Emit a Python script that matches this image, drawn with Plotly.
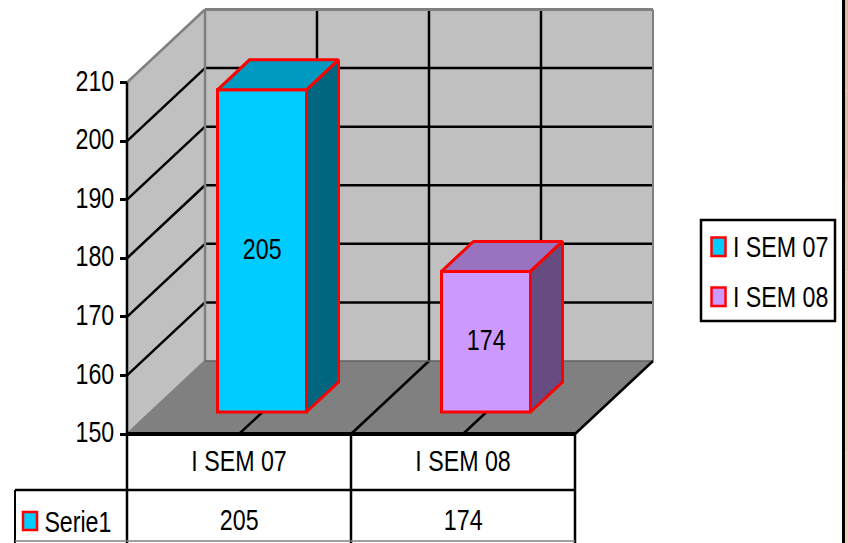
import plotly.graph_objects as go

# Chart data
categories = ["I SEM 07", "I SEM 08"]
values = [205, 174]
series_name = "Serie1"
y_ticks = [150, 160, 170, 180, 190, 200, 210]
front_colors = ["#00CCFF", "#CC99FF"]
top_colors = ["#0099BF", "#9973BF"]
side_colors = ["#006680", "#664C80"]

# Page size and axis scale
WIDTH, HEIGHT = 848, 543
PX_X, PX_Y = 224.0, 351.5 / 60
LEFT, BASELINE = 127, 434  # page position of category 0 and value 150
FONT = dict(family="Liberation Sans", size=29, color="#000000")

x_range = [-LEFT / PX_X, (WIDTH - LEFT) / PX_X]
y_range = [150 - (HEIGHT - BASELINE) / PX_Y, 150 + BASELINE / PX_Y]

# Oblique projection used for the 3D box
DX, DY = 78 / PX_X, 73 / PX_Y          # full floor depth
GAP_X, GAP_Y = 23 / PX_X, 22 / PX_Y    # floor margin in front of the bars
BAR_DX, BAR_DY = 32 / PX_X, 30 / PX_Y  # depth of a bar
BAR_W = 89 / PX_X
Y0, Y1 = y_ticks[0], y_ticks[-1]
N = len(categories)

shapes = []


def polygon(pts, fill, line=None, width=0):
    path = "M" + "L".join(f"{x:.4f},{y:.4f}" for x, y in pts) + "Z"
    shapes.append(dict(type="path", path=path, xref="x", yref="y", fillcolor=fill, layer="below",
                       line=dict(color=line or fill, width=width)))


def segment(x0, y0, x1, y1, color="#000000", width=2.5):
    shapes.append(dict(type="line", x0=x0, y0=y0, x1=x1, y1=y1, xref="x", yref="y", layer="below",
                       line=dict(color=color, width=width)))


def page_rect(x0, y0, x1, y1, fill=None, line=None, width=0):
    shapes.append(dict(type="rect", xref="paper", yref="paper", layer="below",
                       x0=x0 / WIDTH, x1=x1 / WIDTH, y0=1 - y0 / HEIGHT, y1=1 - y1 / HEIGHT,
                       fillcolor=fill or "rgba(0,0,0,0)", line=dict(color=line or "rgba(0,0,0,0)", width=width)))


# Left wall, back wall and floor
polygon([(0, Y0), (0, Y1), (DX, Y1 + DY), (DX, Y0 + DY)], "#C0C0C0")
polygon([(DX, Y0 + DY), (DX, Y1 + DY), (N + DX, Y1 + DY), (N + DX, Y0 + DY)], "#C0C0C0")
polygon([(0, Y0), (DX, Y0 + DY), (N + DX, Y0 + DY), (N, Y0)], "#808080")

# Grid lines on the walls and the floor
for tick in y_ticks[1:-1]:
    segment(0, tick, DX, tick + DY)
    segment(DX, tick + DY, N + DX, tick + DY)
for pos in [0.5, 1.0, 1.5]:
    segment(pos, Y0, pos + DX, Y0 + DY)
    segment(pos + DX, Y0 + DY, pos + DX, Y1 + DY)

# Box edges
GREY = "#808080"
segment(0, Y1, DX, Y1 + DY, GREY, 2.5)
segment(DX, Y1 + DY, N + DX, Y1 + DY, GREY, 3)
segment(DX, Y0 + DY, DX, Y1 + DY, GREY, 2.5)
segment(N + DX, Y0 + DY, N + DX, Y1 + DY, GREY, 2)
segment(0, Y0, DX, Y0 + DY, GREY, 2)
segment(DX, Y0 + DY, N + DX, Y0 + DY, "#606060", 1.5)
segment(N, Y0, N + DX, Y0 + DY, "#000000", 2.5)
segment(0, Y0, 0, Y1, "#000000", 2.5)

# Data table under the plot
y_row = y_range[0] + (HEIGHT - 490) / PX_Y
x_table = (15 - LEFT) / PX_X
y_bottom = y_range[0] + 2 / PX_Y
segment(x_table, y_row, N, y_row, "#000000", 2.5)
segment(x_table, y_row, x_table, y_range[0], "#000000", 2)
for pos in range(N + 1):
    segment(pos, Y0, pos, y_range[0], "#000000", 2.5)
segment(x_table, y_bottom, N, y_bottom, "#808080", 1.5)
segment(0, Y0, N, Y0, "#000000", 4)

# Page edge on the right
strip_colors = ["#DCB8A6", "#DDBBA8", "#E2BFAC", "#E8C5AF", "#ECCAB2", "#F0CDB4"]
for i, color in enumerate(strip_colors):
    page_rect(845, HEIGHT * i / 6, WIDTH, HEIGHT * (i + 1) / 6, fill=color)
page_rect(842, 0, 845, HEIGHT, fill="#000000")

# Legend box and swatches
page_rect(701, 220, 835, 321, fill="#FFFFFF", line="#000000", width=2.5)
legend_rows = [247, 297]
for color, row in zip(front_colors, legend_rows):
    page_rect(711.5, row - 9.5, 725.5, row + 9, fill=color, line="#FF0000", width=2.5)
page_rect(23, 512, 37, 530, fill=front_colors[0], line="#FF0000", width=2.5)

annotations = []
for name, row in zip(categories, legend_rows):
    annotations.append(dict(text=name, xref="paper", yref="paper", x=719 / WIDTH, y=1 - row / HEIGHT,
                            xanchor="left", yanchor="middle", showarrow=False, font=FONT))
annotations.append(dict(text=series_name, xref="paper", yref="paper", x=34 / WIDTH, y=1 - 522 / HEIGHT,
                        xanchor="left", yanchor="middle", showarrow=False, font=FONT))
for i, value in enumerate(values):
    annotations.append(dict(text=str(value), xref="x", yref="paper", x=i + 0.5, y=1 - 519.5 / HEIGHT,
                            xanchor="center", yanchor="middle", showarrow=False, font=FONT))

fig = go.Figure()

# Front faces
bar_base = Y0 + GAP_Y
bar_x = [i + 0.5 + GAP_X for i in range(N)]
fig.add_trace(go.Bar(
    x=bar_x, y=[v - Y0 for v in values], base=bar_base, width=BAR_W,
    marker=dict(color=front_colors, line=dict(color="#FF0000", width=3)),
    hoverinfo="skip", showlegend=False, cliponaxis=False,
))

# Value labels sit just above the middle of each front face
for x_c, value in zip(bar_x, values):
    annotations.append(dict(text=str(value), xref="x", yref="y", x=x_c, y=bar_base + (value - Y0) / 2 + 2 / PX_Y,
                            xanchor="center", yanchor="middle", showarrow=False, font=FONT))

# Top and side faces
for x_c, value, top, side in zip(bar_x, values, top_colors, side_colors):
    xl, xr = x_c - BAR_W / 2, x_c + BAR_W / 2
    y_top = bar_base + value - Y0
    faces = [
        ([xl, xr, xr + BAR_DX, xl + BAR_DX, xl], [y_top, y_top, y_top + BAR_DY, y_top + BAR_DY, y_top], top),
        ([xr, xr + BAR_DX, xr + BAR_DX, xr, xr], [y_top, y_top + BAR_DY, bar_base + BAR_DY, bar_base, y_top], side),
    ]
    for xs, ys, fill in faces:
        fig.add_trace(go.Scatter(x=xs, y=ys, mode="lines", fill="toself", fillcolor=fill,
                                 line=dict(color="#FF0000", width=3), hoverinfo="skip", showlegend=False))

fig.update_layout(
    width=WIDTH, height=HEIGHT, margin=dict(l=0, r=0, t=0, b=0),
    paper_bgcolor="#FFFFFF", plot_bgcolor="rgba(0,0,0,0)",
    barmode="overlay", showlegend=False, font=FONT,
    shapes=shapes, annotations=annotations,
    xaxis=dict(range=x_range, domain=[0, 1], anchor="free", position=(HEIGHT - BASELINE) / HEIGHT,
               tickvals=[i + 0.5 for i in range(N)], ticktext=categories, ticks="", ticklabelstandoff=7,
               showgrid=False, zeroline=False, showline=False, tickfont=FONT, fixedrange=True),
    yaxis=dict(range=y_range, domain=[0, 1], anchor="free", position=LEFT / WIDTH,
               tickvals=y_ticks, ticks="outside", ticklen=7, tickwidth=2.5, tickcolor="#000000",
               ticklabelshift=-2, ticklabelstandoff=0,
               showgrid=False, zeroline=False, showline=False, tickfont=FONT, fixedrange=True),
)

# Labels use a condensed setting of the typeface: squeeze each one about its anchor
condense_text = """
document.querySelectorAll('svg text').forEach(function (t) {
    var x = parseFloat(t.getAttribute('x')) || 0;
    var base = t.getAttribute('transform') || '';
    t.setAttribute('transform', base + ' translate(' + x + ' 0) scale(0.8 1) translate(' + (-x) + ' 0)');
});
"""

fig.write_html("out.html", config=dict(displayModeBar=False), post_script=condense_text)
